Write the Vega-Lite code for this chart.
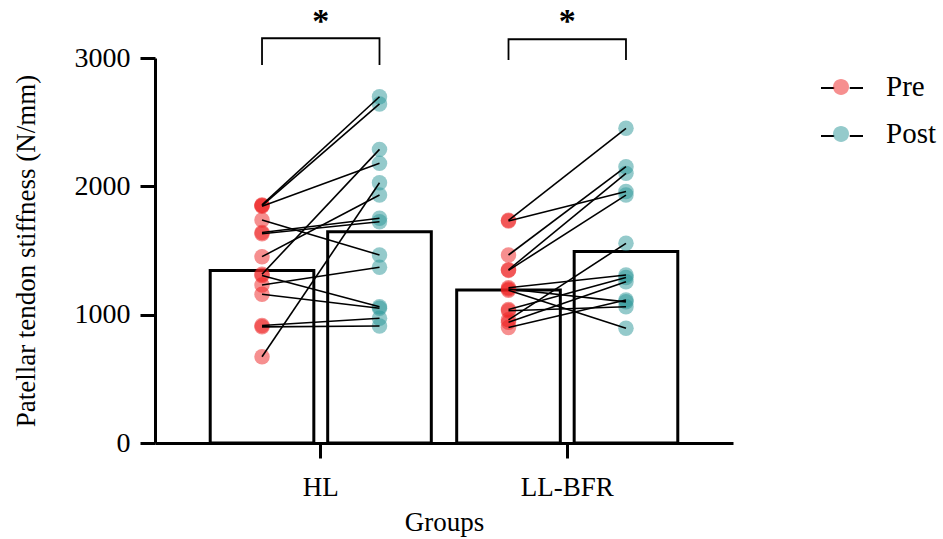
{
  "$schema": "https://vega.github.io/schema/vega-lite/v6.json",
  "width": 578,
  "height": 385,
  "autosize": {"type": "none"},
  "padding": {"left": 155, "top": 58, "right": 210, "bottom": 96},
  "config": {
    "view": {"stroke": null},
    "font": "Liberation Serif",
    "axis": {
      "domainColor": "black", "domainWidth": 3, "tickColor": "black", "tickWidth": 3, "tickSize": 15,
      "labelFont": "Liberation Serif", "labelFontSize": 27, "labelColor": "black",
      "titleFont": "Liberation Serif", "titleFontSize": 27, "titleFontWeight": "normal", "titleColor": "black",
      "grid": false
    },
    "legend": {"labelFont": "Liberation Serif", "labelFontSize": 29, "labelColor": "black"}
  },
  "datasets": {
    "pts": [
      {"subject": "s1", "group": "HL", "time": "Pre", "value": 1855}, {"subject": "s1", "group": "HL", "time": "Post", "value": 2698},
      {"subject": "s2", "group": "HL", "time": "Pre", "value": 1850}, {"subject": "s2", "group": "HL", "time": "Post", "value": 2642},
      {"subject": "s3", "group": "HL", "time": "Pre", "value": 1845}, {"subject": "s3", "group": "HL", "time": "Post", "value": 2179},
      {"subject": "s4", "group": "HL", "time": "Pre", "value": 1738}, {"subject": "s4", "group": "HL", "time": "Post", "value": 1465},
      {"subject": "s5", "group": "HL", "time": "Pre", "value": 1640}, {"subject": "s5", "group": "HL", "time": "Post", "value": 1751},
      {"subject": "s6", "group": "HL", "time": "Pre", "value": 1630}, {"subject": "s6", "group": "HL", "time": "Post", "value": 1724},
      {"subject": "s7", "group": "HL", "time": "Pre", "value": 1452}, {"subject": "s7", "group": "HL", "time": "Post", "value": 1932},
      {"subject": "s8", "group": "HL", "time": "Pre", "value": 1315}, {"subject": "s8", "group": "HL", "time": "Post", "value": 2288},
      {"subject": "s9", "group": "HL", "time": "Pre", "value": 1305}, {"subject": "s9", "group": "HL", "time": "Post", "value": 1062},
      {"subject": "s10", "group": "HL", "time": "Pre", "value": 1231}, {"subject": "s10", "group": "HL", "time": "Post", "value": 1369},
      {"subject": "s11", "group": "HL", "time": "Pre", "value": 1159}, {"subject": "s11", "group": "HL", "time": "Post", "value": 1050},
      {"subject": "s12", "group": "HL", "time": "Pre", "value": 915}, {"subject": "s12", "group": "HL", "time": "Post", "value": 972},
      {"subject": "s13", "group": "HL", "time": "Pre", "value": 905}, {"subject": "s13", "group": "HL", "time": "Post", "value": 912},
      {"subject": "s14", "group": "HL", "time": "Pre", "value": 672}, {"subject": "s14", "group": "HL", "time": "Post", "value": 2028},
      {"subject": "s15", "group": "LL-BFR", "time": "Pre", "value": 1735}, {"subject": "s15", "group": "LL-BFR", "time": "Post", "value": 2452},
      {"subject": "s16", "group": "LL-BFR", "time": "Pre", "value": 1730}, {"subject": "s16", "group": "LL-BFR", "time": "Post", "value": 1960},
      {"subject": "s17", "group": "LL-BFR", "time": "Pre", "value": 1465}, {"subject": "s17", "group": "LL-BFR", "time": "Post", "value": 2153},
      {"subject": "s18", "group": "LL-BFR", "time": "Pre", "value": 1350}, {"subject": "s18", "group": "LL-BFR", "time": "Post", "value": 2101},
      {"subject": "s19", "group": "LL-BFR", "time": "Pre", "value": 1345}, {"subject": "s19", "group": "LL-BFR", "time": "Post", "value": 1932},
      {"subject": "s20", "group": "LL-BFR", "time": "Pre", "value": 1210}, {"subject": "s20", "group": "LL-BFR", "time": "Post", "value": 1309},
      {"subject": "s21", "group": "LL-BFR", "time": "Pre", "value": 1200}, {"subject": "s21", "group": "LL-BFR", "time": "Post", "value": 1100},
      {"subject": "s22", "group": "LL-BFR", "time": "Pre", "value": 1190}, {"subject": "s22", "group": "LL-BFR", "time": "Post", "value": 894},
      {"subject": "s23", "group": "LL-BFR", "time": "Pre", "value": 1040}, {"subject": "s23", "group": "LL-BFR", "time": "Post", "value": 1290},
      {"subject": "s24", "group": "LL-BFR", "time": "Pre", "value": 1030}, {"subject": "s24", "group": "LL-BFR", "time": "Post", "value": 1062},
      {"subject": "s25", "group": "LL-BFR", "time": "Pre", "value": 960}, {"subject": "s25", "group": "LL-BFR", "time": "Post", "value": 1556},
      {"subject": "s26", "group": "LL-BFR", "time": "Pre", "value": 940}, {"subject": "s26", "group": "LL-BFR", "time": "Post", "value": 1257},
      {"subject": "s27", "group": "LL-BFR", "time": "Pre", "value": 900}, {"subject": "s27", "group": "LL-BFR", "time": "Post", "value": 1114}
    ],
    "bars": [
      {"group": "HL", "time": "Pre", "value": 1345},
      {"group": "HL", "time": "Post", "value": 1646},
      {"group": "LL-BFR", "time": "Pre", "value": 1192},
      {"group": "LL-BFR", "time": "Post", "value": 1493}
    ],
    "bracket": [
      {"group": "HL", "time": "Pre", "value": 2945, "ord": 1},
      {"group": "HL", "time": "Pre", "value": 3154, "ord": 2},
      {"group": "HL", "time": "Post", "value": 3154, "ord": 3},
      {"group": "HL", "time": "Post", "value": 2945, "ord": 4},
      {"group": "LL-BFR", "time": "Pre", "value": 2984, "ord": 1},
      {"group": "LL-BFR", "time": "Pre", "value": 3146, "ord": 2},
      {"group": "LL-BFR", "time": "Post", "value": 3146, "ord": 3},
      {"group": "LL-BFR", "time": "Post", "value": 2984, "ord": 4}
    ],
    "stars": [
      {"group": "HL", "label": "*", "value": 3205},
      {"group": "LL-BFR", "label": "*", "value": 3205}
    ]
  },
  "layer": [
    {
      "data": {"name": "bars"},
      "mark": {"type": "bar", "fill": "white", "strokeWidth": 3},
      "encoding": {
        "x": {"field": "group", "type": "nominal", "sort": ["HL", "LL-BFR"], "title": "Groups",
              "scale": {"paddingInner": 0.103, "paddingOuter": 0.224},
              "axis": {"labelAngle": 0, "labelPadding": 16, "titlePadding": 9}},
        "xOffset": {"field": "time", "type": "nominal", "sort": ["Pre", "Post"], "scale": {"domain": ["Pre", "Post"], "paddingInner": 0.118, "paddingOuter": 0}},
        "y": {"field": "value", "type": "quantitative", "title": "Patellar tendon stiffness (N/mm)",
              "scale": {"domain": [0, 3000], "nice": false},
              "axis": {"values": [0, 1000, 2000, 3000], "format": "d", "labelPadding": 10, "labelFontSize": 28, "titlePadding": 34}},
        "stroke": {"field": "time", "type": "nominal", "sort": ["Pre", "Post"], "scale": {"range": ["black", "black"]},
                   "legend": {"title": null, "orient": "none", "legendX": 665, "legendY": 8, "padding": 0,
                              "symbolType": "M-1,0L-0.37,0M0.37,0L1,0", "symbolSize": 1764, "symbolStrokeWidth": 2,
                              "labelOffset": 24, "rowPadding": 11, "labelExpr": "''"}}
      }
    },
    {
      "data": {"name": "pts"},
      "mark": {"type": "point", "filled": true, "size": 240, "opacity": 0.5, "strokeWidth": 0},
      "encoding": {
        "x": {"field": "group", "type": "nominal", "sort": ["HL", "LL-BFR"]},
        "xOffset": {"field": "time", "type": "nominal", "sort": ["Pre", "Post"]},
        "y": {"field": "value", "type": "quantitative"},
        "color": {"field": "time", "type": "nominal", "sort": ["Pre", "Post"],
                  "scale": {"domain": ["Pre", "Post"], "range": ["#ee2020", "#2a9598"]},
                  "legend": {"title": null, "orient": "none", "legendX": 665, "legendY": 8, "padding": 0,
                             "symbolType": "M-0.38,0A0.38,0.38 0 1,0 0.38,0A0.38,0.38 0 1,0 -0.38,0Z", "symbolSize": 1764,
                             "symbolOpacity": 0.5, "symbolStrokeWidth": 0, "labelOffset": 24, "rowPadding": 11}}
      }
    },
    {
      "data": {"name": "pts"},
      "mark": {"type": "line", "color": "black", "strokeWidth": 1.6},
      "encoding": {
        "x": {"field": "group", "type": "nominal", "sort": ["HL", "LL-BFR"]},
        "xOffset": {"field": "time", "type": "nominal", "sort": ["Pre", "Post"]},
        "y": {"field": "value", "type": "quantitative"},
        "detail": {"field": "subject", "type": "nominal"}
      }
    },
    {
      "data": {"name": "bracket"},
      "mark": {"type": "line", "color": "black", "strokeWidth": 1.8},
      "encoding": {
        "x": {"field": "group", "type": "nominal", "sort": ["HL", "LL-BFR"]},
        "xOffset": {"field": "time", "type": "nominal", "sort": ["Pre", "Post"]},
        "y": {"field": "value", "type": "quantitative"},
        "detail": {"field": "group", "type": "nominal"},
        "order": {"field": "ord", "type": "quantitative"}
      }
    },
    {
      "data": {"name": "stars"},
      "mark": {"type": "text", "fontSize": 34, "fontWeight": "bold", "align": "center", "baseline": "alphabetic", "color": "black"},
      "encoding": {
        "x": {"field": "group", "type": "nominal", "sort": ["HL", "LL-BFR"]},
        "y": {"field": "value", "type": "quantitative"},
        "text": {"field": "label"}
      }
    }
  ]
}
